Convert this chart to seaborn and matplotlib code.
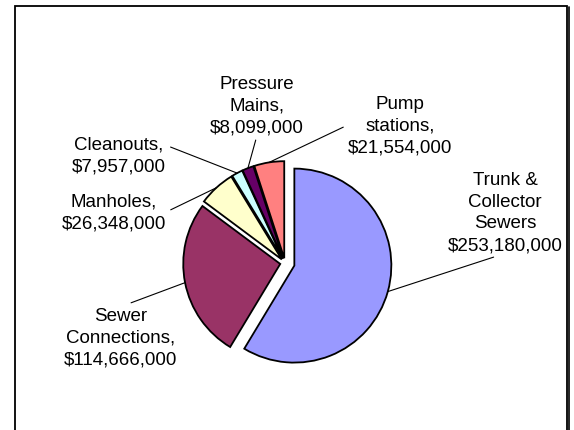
# Exploded pie of sewer system costs ====

import matplotlib.pyplot as plt
import numpy as np
import seaborn as sns
from matplotlib.patches import Rectangle


# Data ====

categories = ["Trunk & Collector Sewers", "Sewer Connections", "Manholes",
              "Cleanouts", "Pressure Mains", "Pump stations"]
costs = [253180000, 114666000, 26348000, 7957000, 8099000, 21554000]
label_names = ["Trunk &\nCollector\nSewers", "Sewer\nConnections,", "Manholes,",
               "Cleanouts,", "Pressure\nMains,", "Pump\nstations,"]
colors = sns.color_palette(["#9999FF", "#993366", "#FFFFCC",
                            "#CCFFFF", "#660066", "#FF8080"])

# layout (pixels from top-left of the picture)
W, H = 574, 431
pie_center = (285, 264)
pie_radius = 97
explode = [0.10, 0.05, 0.05, 0.05, 0.05, 0.05]
label_pos = [(505, 213), (121, 338), (114, 213), (119, 156), (257, 106), (400, 126)]
line_from = [(0.5, 0.0), (0.5, 1.0), (1.0, 0.5), (1.0, 0.75), (0.5, 0.0), (0.0, 0.5)]


# Plot ====

sns.set_theme(style="white")
plt.rcParams["font.family"] = ["Liberation Sans", "DejaVu Sans"]

fig = plt.figure(figsize=(W / 100, H / 100), dpi=100)
ax = fig.add_axes([0, 0, 1, 1])

cx, cy = pie_center[0], H - pie_center[1]
# pie's explode is in data units, so scale the fractions by the radius
wedges, _ = ax.pie(costs, colors=colors, startangle=90, counterclock=False,
                   explode=[e * pie_radius for e in explode],
                   radius=pie_radius, center=(cx, cy),
                   wedgeprops=dict(edgecolor="black", linewidth=1.3))

for w, name, val, (lx, ly), rel in zip(wedges, label_names, costs, label_pos, line_from):
    mid = np.deg2rad((w.theta1 + w.theta2) / 2)
    wx, wy = w.center
    px = wx + pie_radius * np.cos(mid)
    py = wy + pie_radius * np.sin(mid)
    ax.annotate(f"{name}\n${val:,}", xy=(px, py), xytext=(lx, H - ly),
                ha="center", va="center", fontsize=13.5, linespacing=1.38,
                color="black",
                arrowprops=dict(arrowstyle="-", color="black", lw=0.8,
                                relpos=rel, shrinkA=1, shrinkB=0))

# chart area frame (bottom edge falls outside the picture)
ax.add_patch(Rectangle((15, -5), 552, H - 7 + 5, fill=False,
                       edgecolor="black", linewidth=1.3, clip_on=False))
ax.plot([568.5, 568.5], [-5, H - 8], color="black", lw=1.2)

ax.set_xlim(0, W)
ax.set_ylim(0, H)
ax.set_aspect("equal")
ax.axis("off")

fig.savefig("out.png", dpi=100)
